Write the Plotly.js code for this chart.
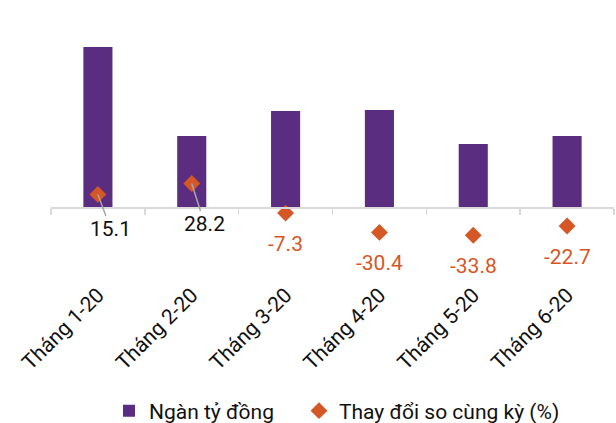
<!DOCTYPE html>
<html>
<head>
<meta charset="utf-8">
<script src="https://cdn.plot.ly/plotly-3.0.1.min.js"></script>
<style>
  html, body { margin: 0; padding: 0; background: #ffffff; }
  #chart { width: 616px; height: 423px; }
</style>
</head>
<body>
<div id="chart"></div>
<script>
// Monthly values (thousand billion VND) and year-on-year change (%)
const months = ["Tháng 1-20", "Tháng 2-20", "Tháng 3-20", "Tháng 4-20", "Tháng 5-20", "Tháng 6-20"];
const valueBn = [16.0, 7.1, 9.6, 9.7, 6.3, 7.1];
const yoyChange = [15.1, 28.2, -7.3, -30.4, -33.8, -22.7];
const seriesNames = ["Ngàn tỷ đồng", "Thay đổi so cùng kỳ (%)"];

const PURPLE = "#5A2D81";
const ORANGE = "#D55726";
const AXIS_GREY = "#D9D9D9";
const FONT = "Roboto, 'Liberation Sans', sans-serif";
const FS = 21;

// Label placement: positive values sit below-right with a leader line,
// negative values sit straight under their marker.
const leaderOffsets = [[13, 35], [13, 41]];

const bars = {
  type: "bar",
  name: seriesNames[0],
  x: months,
  y: valueBn,
  marker: { color: PURPLE },
  yaxis: "y",
  legendwidth: 145,
  hoverinfo: "skip"
};

const markers = {
  type: "scatter",
  mode: "markers",
  name: seriesNames[1],
  x: months,
  y: yoyChange,
  yaxis: "y2",
  cliponaxis: false,
  marker: { symbol: "diamond", size: 13, color: ORANGE },
  hoverinfo: "skip"
};

const annotations = yoyChange.map((v, i) => {
  const base = {
    x: months[i],
    y: v,
    xref: "x",
    yref: "y2",
    text: v.toFixed(1)
  };
  if (v >= 0) {
    const off = leaderOffsets[i] || [13, 38];
    return Object.assign(base, {
      showarrow: true,
      arrowhead: 0,
      arrowwidth: 1.5,
      arrowcolor: "#A6A6A6",
      standoff: 0,
      ax: off[0],
      ay: off[1],
      font: { family: FONT, size: FS, color: "#111111" }
    });
  }
  return Object.assign(base, {
    showarrow: false,
    yshift: -31,
    font: { family: FONT, size: FS, color: ORANGE }
  });
});

// Plot area spans 30..280 px; the category axis sits on the zero line.
const layout = {
  width: 616,
  height: 423,
  paper_bgcolor: "#ffffff",
  plot_bgcolor: "#ffffff",
  font: { family: FONT, size: FS, color: "#111111" },
  margin: { l: 51, r: 2, t: 30, b: 143, autoexpand: false },
  bargap: 0.69,
  showlegend: true,
  legend: {
    orientation: "h",
    x: 0.103,
    xanchor: "left",
    y: -0.524,
    yanchor: "middle",
    font: { family: FONT, size: FS, color: "#111111" },
    bgcolor: "rgba(0,0,0,0)"
  },
  xaxis: {
    type: "category",
    anchor: "free",
    position: 0.292,
    showline: true,
    linecolor: AXIS_GREY,
    linewidth: 1.5,
    ticks: "outside",
    tickson: "boundaries",
    ticklen: 6,
    tickcolor: AXIS_GREY,
    tickwidth: 1.5,
    tickangle: -45,
    ticklabelstandoff: 66,
    showgrid: false,
    zeroline: false,
    fixedrange: true
  },
  yaxis: {
    range: [-7.3, 17.7],
    visible: false,
    showgrid: false,
    zeroline: false,
    fixedrange: true
  },
  yaxis2: {
    range: [-87.4, 212],
    overlaying: "y",
    side: "right",
    visible: false,
    showgrid: false,
    zeroline: false,
    fixedrange: true
  },
  annotations: annotations
};

Plotly.newPlot("chart", [bars, markers], layout, { displayModeBar: false, staticPlot: true });
</script>
</body>
</html>
